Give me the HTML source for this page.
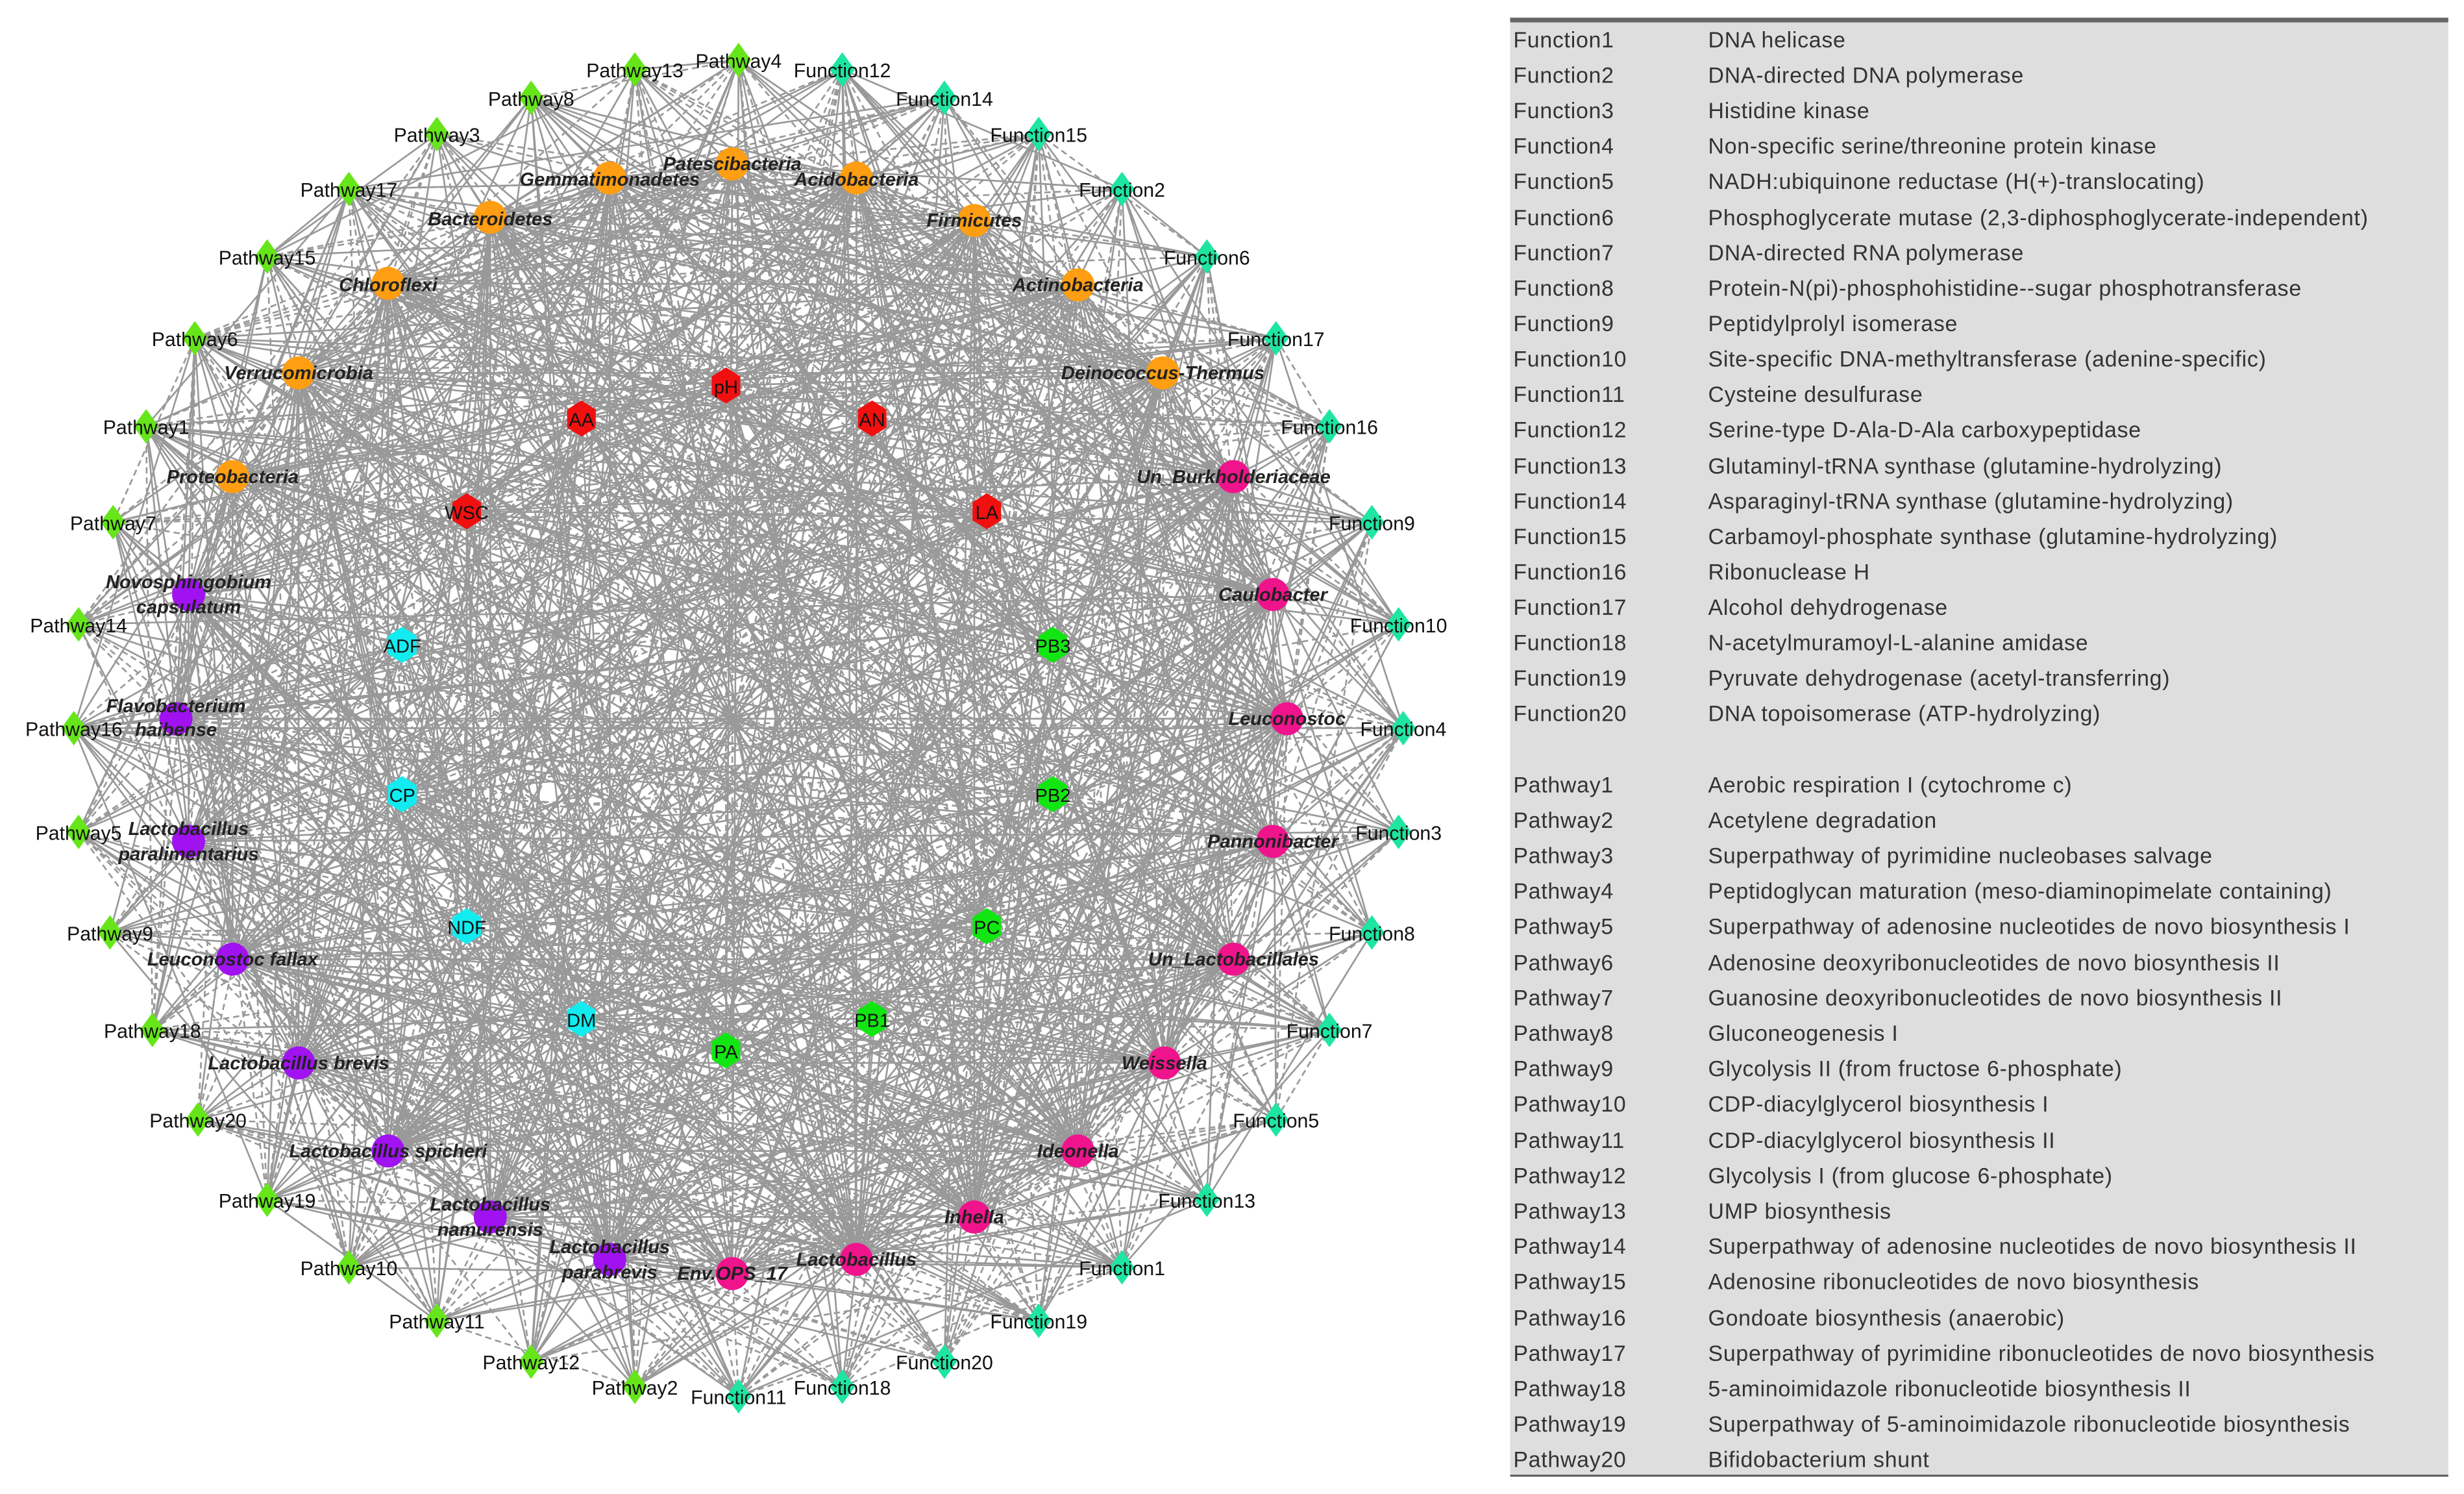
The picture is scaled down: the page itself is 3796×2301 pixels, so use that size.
<!DOCTYPE html>
<html><head><meta charset="utf-8"><style>
html,body{margin:0;padding:0;background:#fff}
svg{display:block}
.t{font-family:"Liberation Sans",sans-serif;font-size:12.5px;fill:#111}
.i{font-family:"Liberation Sans",sans-serif;font-size:12px;font-style:italic;font-weight:bold;fill:#222}
.h{font-family:"Liberation Sans",sans-serif;font-size:12px;fill:#111}
.tb{font-family:"Liberation Sans",sans-serif;font-size:14px;fill:#333;letter-spacing:0.3px}
</style></head><body>
<svg id="s" width="3796" height="2301" viewBox="0 0 1568 950" xmlns="http://www.w3.org/2000/svg">
<rect x="0" y="0" width="1568" height="950" fill="#fff"/>
<g id="edges" stroke="#999" stroke-width="1.1" fill="none"></g>
<g id="nodes"></g>
<g id="labels">
<text class="t" text-anchor="middle" x="470" y="43">Pathway4</text>
<text class="t" text-anchor="middle" x="404" y="49">Pathway13</text>
<text class="t" text-anchor="middle" x="338" y="67">Pathway8</text>
<text class="t" text-anchor="middle" x="278" y="90">Pathway3</text>
<text class="t" text-anchor="middle" x="222" y="125">Pathway17</text>
<text class="t" text-anchor="middle" x="170" y="168">Pathway15</text>
<text class="t" text-anchor="middle" x="124" y="220">Pathway6</text>
<text class="t" text-anchor="middle" x="93" y="276">Pathway1</text>
<text class="t" text-anchor="middle" x="72" y="337">Pathway7</text>
<text class="t" text-anchor="middle" x="50" y="402">Pathway14</text>
<text class="t" text-anchor="middle" x="47" y="468">Pathway16</text>
<text class="t" text-anchor="middle" x="50" y="534">Pathway5</text>
<text class="t" text-anchor="middle" x="70" y="598">Pathway9</text>
<text class="t" text-anchor="middle" x="97" y="660">Pathway18</text>
<text class="t" text-anchor="middle" x="126" y="717">Pathway20</text>
<text class="t" text-anchor="middle" x="170" y="768">Pathway19</text>
<text class="t" text-anchor="middle" x="222" y="811">Pathway10</text>
<text class="t" text-anchor="middle" x="278" y="845">Pathway11</text>
<text class="t" text-anchor="middle" x="338" y="871">Pathway12</text>
<text class="t" text-anchor="middle" x="404" y="887">Pathway2</text>
<text class="t" text-anchor="middle" x="536" y="49">Function12</text>
<text class="t" text-anchor="middle" x="601" y="67">Function14</text>
<text class="t" text-anchor="middle" x="661" y="90">Function15</text>
<text class="t" text-anchor="middle" x="714" y="125">Function2</text>
<text class="t" text-anchor="middle" x="768" y="168">Function6</text>
<text class="t" text-anchor="middle" x="812" y="220">Function17</text>
<text class="t" text-anchor="middle" x="846" y="276">Function16</text>
<text class="t" text-anchor="middle" x="873" y="337">Function9</text>
<text class="t" text-anchor="middle" x="890" y="402">Function10</text>
<text class="t" text-anchor="middle" x="893" y="468">Function4</text>
<text class="t" text-anchor="middle" x="890" y="534">Function3</text>
<text class="t" text-anchor="middle" x="873" y="598">Function8</text>
<text class="t" text-anchor="middle" x="846" y="660">Function7</text>
<text class="t" text-anchor="middle" x="812" y="717">Function5</text>
<text class="t" text-anchor="middle" x="768" y="768">Function13</text>
<text class="t" text-anchor="middle" x="714" y="811">Function1</text>
<text class="t" text-anchor="middle" x="661" y="845">Function19</text>
<text class="t" text-anchor="middle" x="601" y="871">Function20</text>
<text class="t" text-anchor="middle" x="536" y="887">Function18</text>
<text class="t" text-anchor="middle" x="470" y="893">Function11</text>
<text class="i" text-anchor="middle" x="388" y="118">Gemmatimonadetes</text>
<text class="i" text-anchor="middle" x="466" y="108">Patescibacteria</text>
<text class="i" text-anchor="middle" x="545" y="118">Acidobacteria</text>
<text class="i" text-anchor="middle" x="312" y="143">Bacteroidetes</text>
<text class="i" text-anchor="middle" x="620" y="144">Firmicutes</text>
<text class="i" text-anchor="middle" x="247" y="185">Chloroflexi</text>
<text class="i" text-anchor="middle" x="686" y="185">Actinobacteria</text>
<text class="i" text-anchor="middle" x="190" y="241">Verrucomicrobia</text>
<text class="i" text-anchor="middle" x="740" y="241">Deinococcus-Thermus</text>
<text class="i" text-anchor="middle" x="148" y="307">Proteobacteria</text>
<text class="i" text-anchor="middle" x="785" y="307">Un_Burkholderiaceae</text>
<text class="i" text-anchor="middle" x="810" y="382">Caulobacter</text>
<text class="i" text-anchor="middle" x="819" y="461">Leuconostoc</text>
<text class="i" text-anchor="middle" x="810" y="539">Pannonibacter</text>
<text class="i" text-anchor="middle" x="785" y="614">Un_Lactobacillales</text>
<text class="i" text-anchor="middle" x="741" y="680">Weissella</text>
<text class="i" text-anchor="middle" x="686" y="736">Ideonella</text>
<text class="i" text-anchor="middle" x="620" y="778">Inhella</text>
<text class="i" text-anchor="middle" x="545" y="805">Lactobacillus</text>
<text class="i" text-anchor="middle" x="466" y="814">Env.OPS_17</text>
<text class="i" text-anchor="middle" x="120" y="374">Novosphingobium</text>
<text class="i" text-anchor="middle" x="120" y="390">capsulatum</text>
<text class="i" text-anchor="middle" x="112" y="453">Flavobacterium</text>
<text class="i" text-anchor="middle" x="112" y="468">haibense</text>
<text class="i" text-anchor="middle" x="120" y="531">Lactobacillus</text>
<text class="i" text-anchor="middle" x="120" y="547">paralimentarius</text>
<text class="i" text-anchor="middle" x="148" y="614">Leuconostoc fallax</text>
<text class="i" text-anchor="middle" x="190" y="680">Lactobacillus brevis</text>
<text class="i" text-anchor="middle" x="247" y="736">Lactobacillus spicheri</text>
<text class="i" text-anchor="middle" x="312" y="770">Lactobacillus</text>
<text class="i" text-anchor="middle" x="312" y="786">namurensis</text>
<text class="i" text-anchor="middle" x="388" y="797">Lactobacillus</text>
<text class="i" text-anchor="middle" x="388" y="813">parabrevis</text>
<text class="h" text-anchor="middle" x="462" y="250">pH</text>
<text class="h" text-anchor="middle" x="370" y="271">AA</text>
<text class="h" text-anchor="middle" x="555" y="271">AN</text>
<text class="h" text-anchor="middle" x="297" y="330">WSC</text>
<text class="h" text-anchor="middle" x="628" y="330">LA</text>
<text class="h" text-anchor="middle" x="256" y="415">ADF</text>
<text class="h" text-anchor="middle" x="256" y="510">CP</text>
<text class="h" text-anchor="middle" x="297" y="594">NDF</text>
<text class="h" text-anchor="middle" x="370" y="653">DM</text>
<text class="h" text-anchor="middle" x="670" y="415">PB3</text>
<text class="h" text-anchor="middle" x="670" y="510">PB2</text>
<text class="h" text-anchor="middle" x="628" y="594">PC</text>
<text class="h" text-anchor="middle" x="555" y="653">PB1</text>
<text class="h" text-anchor="middle" x="462" y="673">PA</text>
</g>
<rect x="961" y="13" width="597" height="926" fill="#dedede"/>
<rect x="961" y="11" width="597" height="3" fill="#666"/>
<rect x="961" y="938" width="597" height="1.2" fill="#555"/>
<g class="tb">
<text class="tb" x="963" y="30">Function1</text><text class="tb" x="1087" y="30">DNA helicase</text>
<text class="tb" x="963" y="52.5">Function2</text><text class="tb" x="1087" y="52.5">DNA-directed DNA polymerase</text>
<text class="tb" x="963" y="75">Function3</text><text class="tb" x="1087" y="75">Histidine kinase</text>
<text class="tb" x="963" y="97.5">Function4</text><text class="tb" x="1087" y="97.5">Non-specific serine/threonine protein kinase</text>
<text class="tb" x="963" y="120">Function5</text><text class="tb" x="1087" y="120">NADH:ubiquinone reductase (H(+)-translocating)</text>
<text class="tb" x="963" y="143">Function6</text><text class="tb" x="1087" y="143">Phosphoglycerate mutase (2,3-diphosphoglycerate-independent)</text>
<text class="tb" x="963" y="165.5">Function7</text><text class="tb" x="1087" y="165.5">DNA-directed RNA polymerase</text>
<text class="tb" x="963" y="188">Function8</text><text class="tb" x="1087" y="188">Protein-N(pi)-phosphohistidine--sugar phosphotransferase</text>
<text class="tb" x="963" y="210.5">Function9</text><text class="tb" x="1087" y="210.5">Peptidylprolyl isomerase</text>
<text class="tb" x="963" y="233">Function10</text><text class="tb" x="1087" y="233">Site-specific DNA-methyltransferase (adenine-specific)</text>
<text class="tb" x="963" y="255.5">Function11</text><text class="tb" x="1087" y="255.5">Cysteine desulfurase</text>
<text class="tb" x="963" y="278">Function12</text><text class="tb" x="1087" y="278">Serine-type D-Ala-D-Ala carboxypeptidase</text>
<text class="tb" x="963" y="301">Function13</text><text class="tb" x="1087" y="301">Glutaminyl-tRNA synthase (glutamine-hydrolyzing)</text>
<text class="tb" x="963" y="323.5">Function14</text><text class="tb" x="1087" y="323.5">Asparaginyl-tRNA synthase (glutamine-hydrolyzing)</text>
<text class="tb" x="963" y="346">Function15</text><text class="tb" x="1087" y="346">Carbamoyl-phosphate synthase (glutamine-hydrolyzing)</text>
<text class="tb" x="963" y="368.5">Function16</text><text class="tb" x="1087" y="368.5">Ribonuclease H</text>
<text class="tb" x="963" y="391">Function17</text><text class="tb" x="1087" y="391">Alcohol dehydrogenase</text>
<text class="tb" x="963" y="413.5">Function18</text><text class="tb" x="1087" y="413.5">N-acetylmuramoyl-L-alanine amidase</text>
<text class="tb" x="963" y="436">Function19</text><text class="tb" x="1087" y="436">Pyruvate dehydrogenase (acetyl-transferring)</text>
<text class="tb" x="963" y="458.5">Function20</text><text class="tb" x="1087" y="458.5">DNA topoisomerase (ATP-hydrolyzing)</text>
<text class="tb" x="963" y="504">Pathway1</text><text class="tb" x="1087" y="504">Aerobic respiration I (cytochrome c)</text>
<text class="tb" x="963" y="526.5">Pathway2</text><text class="tb" x="1087" y="526.5">Acetylene degradation</text>
<text class="tb" x="963" y="549">Pathway3</text><text class="tb" x="1087" y="549">Superpathway of pyrimidine nucleobases salvage</text>
<text class="tb" x="963" y="571.5">Pathway4</text><text class="tb" x="1087" y="571.5">Peptidoglycan maturation (meso-diaminopimelate containing)</text>
<text class="tb" x="963" y="594">Pathway5</text><text class="tb" x="1087" y="594">Superpathway of adenosine nucleotides de novo biosynthesis I</text>
<text class="tb" x="963" y="617">Pathway6</text><text class="tb" x="1087" y="617">Adenosine deoxyribonucleotides de novo biosynthesis II</text>
<text class="tb" x="963" y="639.5">Pathway7</text><text class="tb" x="1087" y="639.5">Guanosine deoxyribonucleotides de novo biosynthesis II</text>
<text class="tb" x="963" y="662">Pathway8</text><text class="tb" x="1087" y="662">Gluconeogenesis I</text>
<text class="tb" x="963" y="684.5">Pathway9</text><text class="tb" x="1087" y="684.5">Glycolysis II (from fructose 6-phosphate)</text>
<text class="tb" x="963" y="707">Pathway10</text><text class="tb" x="1087" y="707">CDP-diacylglycerol biosynthesis I</text>
<text class="tb" x="963" y="730">Pathway11</text><text class="tb" x="1087" y="730">CDP-diacylglycerol biosynthesis II</text>
<text class="tb" x="963" y="752.5">Pathway12</text><text class="tb" x="1087" y="752.5">Glycolysis I (from glucose 6-phosphate)</text>
<text class="tb" x="963" y="775">Pathway13</text><text class="tb" x="1087" y="775">UMP biosynthesis</text>
<text class="tb" x="963" y="797.5">Pathway14</text><text class="tb" x="1087" y="797.5">Superpathway of adenosine nucleotides de novo biosynthesis II</text>
<text class="tb" x="963" y="820">Pathway15</text><text class="tb" x="1087" y="820">Adenosine ribonucleotides de novo biosynthesis</text>
<text class="tb" x="963" y="843">Pathway16</text><text class="tb" x="1087" y="843">Gondoate biosynthesis (anaerobic)</text>
<text class="tb" x="963" y="865.5">Pathway17</text><text class="tb" x="1087" y="865.5">Superpathway of pyrimidine ribonucleotides de novo biosynthesis</text>
<text class="tb" x="963" y="888">Pathway18</text><text class="tb" x="1087" y="888">5-aminoimidazole ribonucleotide biosynthesis II</text>
<text class="tb" x="963" y="910.5">Pathway19</text><text class="tb" x="1087" y="910.5">Superpathway of 5-aminoimidazole ribonucleotide biosynthesis</text>
<text class="tb" x="963" y="933">Pathway20</text><text class="tb" x="1087" y="933">Bifidobacterium shunt</text>
</g>
<script>
(function(){
var NS="http://www.w3.org/2000/svg";
var P=[[470,38],[404,44],[338,62],[278,85],[222,120],[170,163],[124,215],[93,271],[72,332],[50,397],[47,463],[50,529],[70,593],[97,655],[126,712],[170,763],[222,806],[278,840],[338,866],[404,882]];
var F=[[536,44],[601,62],[661,85],[714,120],[768,163],[812,215],[846,271],[873,332],[890,397],[893,463],[890,529],[873,593],[846,655],[812,712],[768,763],[714,806],[661,840],[601,866],[536,882],[470,888]];
var O=[[388,113],[466,104],[545,113],[312,138],[620,140],[247,180],[686,181],[190,237],[740,237],[148,303]];
var M=[[785,303],[810,378],[819,457],[810,535],[785,610],[741,676],[686,732],[620,774],[545,801],[466,810]];
var U=[[120,378],[112,457],[120,535],[148,610],[190,676],[247,732],[312,774],[388,801]];
var R=[[462,245],[370,266],[555,266],[297,325],[628,325]];
var C=[[256,410],[256,505],[297,589],[370,648]];
var G=[[670,410],[670,505],[628,589],[555,648],[462,668]];
var seed=12345;function rnd(){seed=(seed*1103515245+12345)%2147483648;return seed/2147483648;}
var circ=O.concat(M,U), hex=R.concat(C,G), outer=P.concat(F);
var all=outer.concat(circ,hex);
var E=document.getElementById("edges"),d1="",d2="";
function add(a,b){var s="M"+a[0]+" "+a[1]+"L"+b[0]+" "+b[1];if(rnd()<0.42)d2+=s;else d1+=s;}
outer.forEach(function(a){for(var k=0;k<17;k++){var b=circ[Math.floor(rnd()*circ.length)];add(a,b);}for(var k=0;k<3;k++){add(a,outer[Math.floor(rnd()*outer.length)]);}});
circ.forEach(function(a){for(var k=0;k<20;k++){add(a,circ[Math.floor(rnd()*circ.length)]);}for(var k=0;k<9;k++){add(a,hex[Math.floor(rnd()*hex.length)]);}});
hex.forEach(function(a){for(var k=0;k<14;k++){add(a,all[Math.floor(rnd()*all.length)]);}});
var p1=document.createElementNS(NS,"path");p1.setAttribute("d",d1);E.appendChild(p1);
var p2=document.createElementNS(NS,"path");p2.setAttribute("d",d2);p2.setAttribute("stroke-dasharray","4 2.5");E.appendChild(p2);
var N=document.getElementById("nodes");
function poly(pts,fill){var e=document.createElementNS(NS,"polygon");e.setAttribute("points",pts);e.setAttribute("fill",fill);N.appendChild(e);}
function dia(c,fill){var x=c[0],y=c[1];poly((x)+","+(y-11)+" "+(x+8)+","+y+" "+x+","+(y+11)+" "+(x-8)+","+y,fill);}
function hx(c,fill){var x=c[0],y=c[1],s="";for(var i=0;i<6;i++){var a=Math.PI/3*i-Math.PI/2;s+=(x+10.5*Math.cos(a)).toFixed(1)+","+(y+11.5*Math.sin(a)).toFixed(1)+" ";}poly(s,fill);}
function ci(c,fill){var e=document.createElementNS(NS,"circle");e.setAttribute("cx",c[0]);e.setAttribute("cy",c[1]);e.setAttribute("r",10.5);e.setAttribute("fill",fill);N.appendChild(e);}
P.forEach(function(c){dia(c,"#66e61a");});
F.forEach(function(c){dia(c,"#1ee6a0");});
O.forEach(function(c){ci(c,"#ff9e12");});
M.forEach(function(c){ci(c,"#f0148c");});
U.forEach(function(c){ci(c,"#a012f0");});
R.forEach(function(c){hx(c,"#f01010");});
C.forEach(function(c){hx(c,"#12ecf0");});
G.forEach(function(c){hx(c,"#12e612");});
})();
</script>
</svg>
</body></html>
